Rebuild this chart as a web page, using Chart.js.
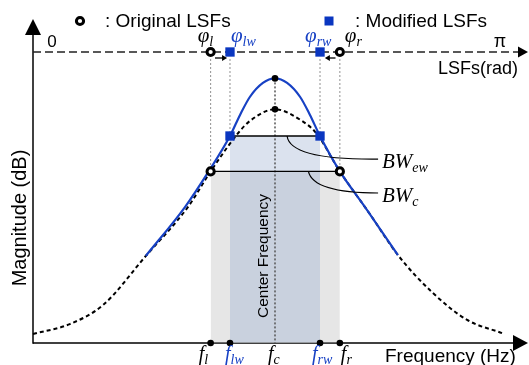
<!DOCTYPE html>
<html>
<head>
<meta charset="utf-8">
<script src="https://cdn.jsdelivr.net/npm/chart.js@4.4.1/dist/chart.umd.min.js"></script>
<style>
  html, body { margin: 0; padding: 0; background: #fff; }
  canvas { display: block; }
</style>
</head>
<body>
<canvas id="lsfChart" width="529" height="365"></canvas>
<script>
// Original response (black dashed), frequency 0..100, magnitude 0..100
var orig_x = [0, 7.6, 14.5, 23.3, 32.0, 36.7, 42.4, 44.8, 50, 55.6, 58.5, 63.4, 69.6, 75.4, 82.6, 89.7, 96.9];
var orig_y = [3.0, 6.3, 12.7, 29.0, 45.3, 57.2, 70.0, 74.0, 77.9, 74.0, 70.0, 57.2, 43.0, 29.3, 16.7, 7.7, 3.3];

// Modified response (blue)
var mod_x = [23.3, 31.4, 36.3, 40.7, 42.8, 44.8, 47.5, 50, 52.5, 55.2, 57.2, 59.3, 63.4, 68.6, 75.4];
var mod_y = [29.0, 45.3, 57.2, 69.0, 76.1, 82.0, 86.7, 88.2, 86.7, 82.0, 76.1, 69.0, 57.2, 45.3, 29.3];

// LSF / band edge positions
var phi_l = 36.7, phi_lw = 40.7, phi_rw = 59.3, phi_r = 63.4;
var center_freq = 50;
var bw_c_level = 57.2;
var bw_ew_level = 69.0;
var peak_orig = 77.9;
var peak_mod = 88.2;
var lsf_line_level = 97;

var BLUE = '#1741c4';
var SANS = '"Liberation Sans", Arial, sans-serif';
var SERIF = '"Liberation Serif", "Times New Roman", serif';

function zip(xs, ys) {
  return xs.map(function(x, i) { return {x: x, y: ys[i]}; });
}
function seg(x0, y0, x1, y1) {
  return [{x: x0, y: y0}, {x: x1, y: y1}];
}
function band(data, color, order) {
  return { data: data, fill: {value: 0.25}, backgroundColor: color, borderWidth: 0, pointRadius: 0, order: order };
}
function dotted(x, yTop, yBot) {
  return { data: seg(x, yTop, x, yBot), borderColor: '#222', borderWidth: 1, borderDash: [1, 3], pointRadius: 0, order: 17 };
}

function arrowHead(ctx, tx, ty, dx, dy, len, hw) {
  var bx = tx - dx * len, by = ty - dy * len;
  ctx.beginPath();
  ctx.moveTo(tx, ty);
  ctx.lineTo(bx - dy * hw, by + dx * hw);
  ctx.lineTo(bx + dy * hw, by - dx * hw);
  ctx.closePath();
  ctx.fill();
}

function mathLabel(ctx, x, y, main, sub, color, size, subSize) {
  ctx.fillStyle = color;
  ctx.textAlign = 'left';
  ctx.textBaseline = 'alphabetic';
  ctx.font = 'italic ' + size + 'px ' + SERIF;
  ctx.fillText(main, x, y);
  var w = ctx.measureText(main).width;
  ctx.font = 'italic ' + subSize + 'px ' + SERIF;
  ctx.fillText(sub, x + w, y + 4);
}

var decor = {
  id: 'decor',
  beforeDatasetsDraw: function(chart) {
    var ctx = chart.ctx, a = chart.chartArea;
    var xs = chart.scales.x, ys = chart.scales.y;
    var x0 = xs.getPixelForValue(0), y0 = ys.getPixelForValue(0);
    var yl = ys.getPixelForValue(lsf_line_level);
    ctx.save();
    ctx.strokeStyle = '#000';
    ctx.fillStyle = '#000';
    ctx.lineWidth = 1.5;
    // magnitude axis
    ctx.beginPath(); ctx.moveTo(x0, y0 + 0.75); ctx.lineTo(x0, a.top - 12); ctx.stroke();
    arrowHead(ctx, x0, a.top - 24, 0, -1, 16, 8);
    // frequency axis
    ctx.beginPath(); ctx.moveTo(x0, y0); ctx.lineTo(a.right + 0, y0); ctx.stroke();
    arrowHead(ctx, a.right + 11, y0, 1, 0, 15, 8);
    // LSF axis (dashed)
    ctx.setLineDash([8, 4]);
    ctx.lineWidth = 1.4;
    ctx.strokeStyle = '#222';
    ctx.beginPath(); ctx.moveTo(x0, yl); ctx.lineTo(a.right + 2, yl); ctx.stroke();
    ctx.setLineDash([]);
    arrowHead(ctx, a.right + 11, yl, 1, 0, 10, 5.5);
    // little shift arrows under the LSF axis
    var ya = ys.getPixelForValue(95);
    ctx.lineWidth = 1.3;
    ctx.strokeStyle = '#000';
    var lx0 = xs.getPixelForValue(phi_l + 0.9), lx1 = xs.getPixelForValue(phi_lw - 0.6);
    ctx.beginPath(); ctx.moveTo(lx0, ya); ctx.lineTo(lx1 - 3, ya); ctx.stroke();
    arrowHead(ctx, lx1, ya, 1, 0, 5, 3);
    var rx0 = xs.getPixelForValue(phi_r - 0.9), rx1 = xs.getPixelForValue(phi_rw + 1.0);
    ctx.beginPath(); ctx.moveTo(rx0, ya); ctx.lineTo(rx1 + 3, ya); ctx.stroke();
    arrowHead(ctx, rx1, ya, -1, 0, 5, 3);
    ctx.restore();
  },
  afterDraw: function(chart) {
    var ctx = chart.ctx;
    var xs = chart.scales.x, ys = chart.scales.y;
    var px = function(v) { return xs.getPixelForValue(v); };
    var py = function(v) { return ys.getPixelForValue(v); };
    ctx.save();

    // legend glyphs
    ctx.lineWidth = 3;
    ctx.strokeStyle = '#000';
    ctx.fillStyle = '#fff';
    ctx.beginPath(); ctx.arc(80, 21, 3.6, 0, Math.PI * 2); ctx.fill(); ctx.stroke();
    ctx.fillStyle = '#0a36c0';
    ctx.fillRect(324.5, 16.5, 9, 9);

    ctx.fillStyle = '#000';
    ctx.textBaseline = 'alphabetic';
    ctx.font = '19px ' + SANS;
    ctx.textAlign = 'left';
    ctx.fillText(': Original LSFs', 105, 27);
    ctx.fillText(': Modified LSFs', 355, 27);

    // LSF axis labels
    ctx.font = '17px ' + SANS;
    ctx.textAlign = 'center';
    ctx.fillText('0', 52, 47);
    ctx.font = '18px ' + SANS;
    ctx.fillText('\u03c0', 500, 47);
    ctx.textAlign = 'right';
    ctx.fillText('LSFs(rad)', 518, 74);

    // axis titles
    ctx.font = '19px ' + SANS;
    ctx.textAlign = 'left';
    ctx.fillText('Frequency (Hz)', 385, 362);
    ctx.save();
    ctx.translate(26, 218);
    ctx.rotate(-Math.PI / 2);
    ctx.font = '20px ' + SANS;
    ctx.textAlign = 'center';
    ctx.fillText('Magnitude (dB)', 0, 0);
    ctx.restore();
    ctx.save();
    ctx.translate(268, 256);
    ctx.rotate(-Math.PI / 2);
    ctx.font = '15.5px ' + SANS;
    ctx.textAlign = 'center';
    ctx.fillText('Center Frequency', 0, 0);
    ctx.restore();

    // phi labels
    var yPhi = 42;
    mathLabel(ctx, px(phi_l) - 13, yPhi, '\u03c6', 'l', '#000', 21, 14);
    mathLabel(ctx, px(phi_lw) + 1, yPhi, '\u03c6', 'lw', BLUE, 21, 14);
    mathLabel(ctx, px(phi_rw) - 15, yPhi, '\u03c6', 'rw', BLUE, 21, 14);
    mathLabel(ctx, px(phi_r) + 5, yPhi, '\u03c6', 'r', '#000', 21, 14);

    // frequency labels
    var yF = 360;
    mathLabel(ctx, px(phi_l) - 12, yF, 'f', 'l', '#000', 20, 14);
    mathLabel(ctx, px(phi_lw) - 5, yF, 'f', 'lw', BLUE, 20, 14);
    mathLabel(ctx, px(center_freq) - 7, yF, 'f', 'c', '#000', 20, 14);
    mathLabel(ctx, px(phi_rw) - 8, yF, 'f', 'rw', BLUE, 20, 14);
    mathLabel(ctx, px(phi_r) + 1, yF, 'f', 'r', '#000', 20, 14);

    // bandwidth leaders and labels
    ctx.strokeStyle = '#000';
    ctx.lineWidth = 1.2;
    ctx.beginPath();
    ctx.moveTo(px(52.5), py(bw_ew_level));
    ctx.quadraticCurveTo(px(53.1), py(61.0), px(71.3), py(61.3));
    ctx.stroke();
    ctx.beginPath();
    ctx.moveTo(px(56.9), py(bw_c_level));
    ctx.quadraticCurveTo(px(57.9), py(50.0), px(71.3), py(50.0));
    ctx.stroke();
    mathLabel(ctx, 382, 168, 'BW', 'ew', '#000', 21, 14);
    mathLabel(ctx, 382, 202, 'BW', 'c', '#000', 21, 14);

    ctx.restore();
  }
};

var ctx = document.getElementById('lsfChart');
var lsfChart = new Chart(ctx, {
  type: 'line',
  data: {
    datasets: [
      band(seg(phi_l, bw_c_level, phi_r, bw_c_level), '#e6e6e6', 20),
      band(seg(phi_lw, bw_ew_level, phi_rw, bw_ew_level), '#dbe2ee', 19),
      band(seg(phi_lw, bw_c_level, phi_rw, bw_c_level), '#c9d1de', 18),
      dotted(phi_l, 94.5, bw_c_level),
      dotted(phi_r, 94.5, bw_c_level),
      dotted(phi_lw, 94.5, bw_ew_level),
      dotted(phi_rw, 94.5, bw_ew_level),
      {
        data: seg(center_freq, peak_mod, center_freq, 0),
        borderColor: '#555', borderWidth: 1.5, borderDash: [2, 2], pointRadius: 0, order: 16
      },
      {
        data: seg(phi_l, bw_c_level, phi_r, bw_c_level),
        borderColor: '#000', borderWidth: 1.3, pointRadius: 0, order: 15
      },
      {
        data: seg(phi_lw, bw_ew_level, phi_rw, bw_ew_level),
        borderColor: '#000', borderWidth: 1.3, pointRadius: 0, order: 15
      },
      {
        label: 'Original',
        data: zip(orig_x, orig_y),
        borderColor: '#000', borderWidth: 2, borderDash: [4, 3],
        cubicInterpolationMode: 'monotone', pointRadius: 0, order: 12
      },
      {
        label: 'Modified',
        data: zip(mod_x, mod_y),
        borderColor: BLUE, borderWidth: 2.2,
        cubicInterpolationMode: 'monotone', pointRadius: 0, order: 11
      },
      {
        label: 'Original LSFs',
        data: [{x: phi_l, y: lsf_line_level}, {x: phi_r, y: lsf_line_level}, {x: phi_l, y: bw_c_level}, {x: phi_r, y: bw_c_level}],
        showLine: false, pointStyle: 'circle', pointRadius: 3.6, pointBorderWidth: 3,
        pointBackgroundColor: '#fff', pointBorderColor: '#000', order: 3
      },
      {
        label: 'Modified LSFs',
        data: [{x: phi_lw, y: lsf_line_level}, {x: phi_rw, y: lsf_line_level}, {x: phi_lw, y: bw_ew_level}, {x: phi_rw, y: bw_ew_level}],
        showLine: false, pointStyle: 'rect', pointRadius: 6.6, pointBorderWidth: 0,
        pointBackgroundColor: '#0a36c0', pointBorderColor: '#0a36c0', order: 2
      },
      {
        label: 'Marks',
        data: [{x: center_freq, y: peak_mod}, {x: center_freq, y: peak_orig},
               {x: phi_l, y: 0}, {x: phi_lw, y: 0}, {x: phi_rw, y: 0}, {x: phi_r, y: 0}],
        showLine: false, pointRadius: 3.3, pointBorderWidth: 0,
        pointBackgroundColor: '#000', pointBorderColor: '#000', order: 1
      }
    ]
  },
  options: {
    responsive: false,
    animation: false,
    devicePixelRatio: 1,
    clip: false,
    layout: { padding: { left: 33, right: 12, top: 43, bottom: 22 } },
    scales: {
      x: { type: 'linear', min: 0, max: 100, display: false },
      y: { type: 'linear', min: 0, max: 100, display: false }
    },
    elements: { line: { tension: 0 } },
    plugins: {
      legend: { display: false },
      tooltip: { enabled: false }
    }
  },
  plugins: [decor]
});
</script>
</body>
</html>
